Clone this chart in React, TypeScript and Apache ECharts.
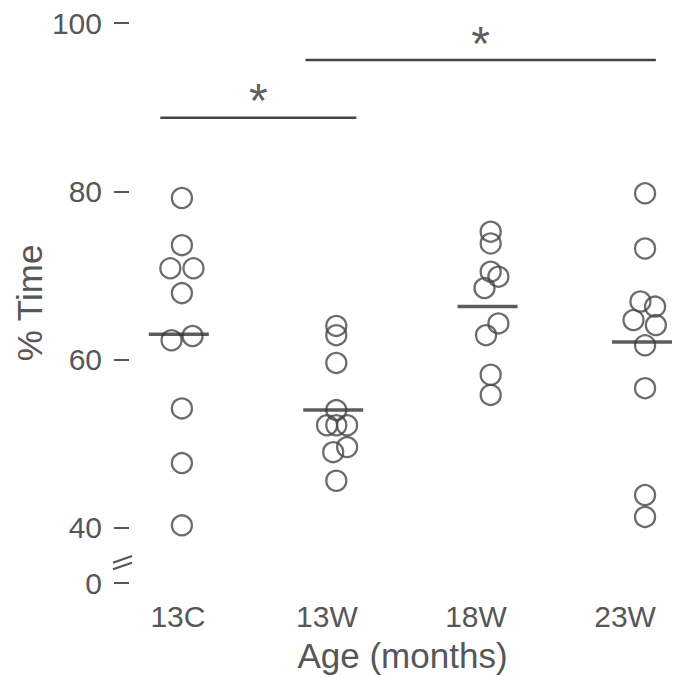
import React, { useEffect, useRef } from "react";
import * as echarts from "echarts";

// Categories (age groups)
const CATEGORIES = ["13C", "13W", "18W", "23W"];

// Individual values (% Time) per group, with small horizontal jitter (in category units)
const VALUES_13C = [79.2, 73.6, 70.85, 70.85, 67.9, 62.3, 62.8, 54.2, 47.7, 40.3];
const JITTER_13C = [0, 0, -0.075, 0.075, 0, -0.067, 0.069, 0, 0, 0];
const VALUES_13W = [64.0, 62.9, 59.6, 54.0, 52.2, 52.2, 52.2, 49.0, 49.6, 45.6];
const JITTER_13W = [0, 0, 0, 0, -0.06, 0, 0.07, -0.02, 0.07, 0];
const VALUES_18W = [75.2, 73.8, 70.45, 69.85, 68.5, 64.3, 62.9, 58.2, 55.8];
const JITTER_18W = [0, 0, 0, 0.05, -0.04, 0.05, -0.03, 0, 0];
const VALUES_23W = [79.76, 73.2, 66.9, 66.3, 64.7, 64.1, 61.7, 56.6, 43.9, 41.3];
const JITTER_23W = [0, 0, -0.03, 0.065, -0.075, 0.07, 0, 0, 0, 0];

// Group means (horizontal bars)
const MEANS = [63.0, 54.0, 66.3, 62.1];

// Y axis ticks (axis broken between 0 and 40)
const Y_TICK_POSITIONS = [33.45, 40, 60, 80, 100];
const Y_TICK_LABELS = ["0", "40", "60", "80", "100"];

// Significance bars
const SIG_X0 = [-0.14, 0.8];
const SIG_X1 = [1.13, 3.07];
const SIG_Y = [88.75, 95.6];
const SIG_MARK = ["*", "*"];

const TEXT_COLOR = "#575757";
const MARK_COLOR = "#474747";
const FONT = "Liberation Sans, Arial, sans-serif";

export default function App() {
  const ref = useRef<HTMLDivElement>(null);

  useEffect(() => {
    if (!ref.current) return;
    const chart = echarts.init(ref.current, undefined, { renderer: "svg" });

    const groups = [
      [VALUES_13C, JITTER_13C],
      [VALUES_13W, JITTER_13W],
      [VALUES_18W, JITTER_18W],
      [VALUES_23W, JITTER_23W],
    ];
    const points: number[][] = [];
    groups.forEach(([vals, jit], gi) => {
      (vals as number[]).forEach((v, i) => points.push([gi + (jit as number[])[i], v]));
    });

    const sigSeries: any[] = SIG_Y.map((y, i) => ({
      type: "line",
      xAxisIndex: 1,
      data: [
        [SIG_X0[i], y],
        [SIG_X1[i], y],
      ],
      symbol: "none",
      lineStyle: { color: "#444", width: 2.5 },
      silent: true,
      z: 3,
    }));
    const starSeries = {
      type: "scatter",
      xAxisIndex: 1,
      symbolSize: 0,
      data: SIG_Y.map((y, i) => [(SIG_X0[i] + SIG_X1[i]) / 2, y, SIG_MARK[i]]),
      label: {
        show: true,
        position: "top",
        distance: -7,
        formatter: (p: any) => p.value[2],
        fontSize: 48,
        fontFamily: FONT,
        color: "#333",
      },
      silent: true,
    };

    chart.setOption({
      animation: false,
      backgroundColor: "#ffffff",
      grid: { left: 129, right: 0, top: 23, bottom: 95, outerBoundsMode: "none" },
      xAxis: [
        {
          type: "value",
          min: -0.328,
          max: 3.3415,
          axisLine: { show: false, onZero: false },
          axisTick: { show: false },
          splitLine: { show: false },
          axisLabel: {
            customValues: [0, 1, 2, 3],
            formatter: (v: number) => CATEGORIES[Math.round(v)] ?? "",
            fontSize: 30,
            fontFamily: FONT,
            color: TEXT_COLOR,
            margin: 18,
          },
          name: "Age (months)",
          nameLocation: "middle",
          nameGap: 55,
          nameMoveOverlap: false,
          nameTextStyle: { fontSize: 35, fontFamily: FONT, color: TEXT_COLOR },
        },
        {
          type: "value",
          show: false,
          position: "top",
          min: -0.3427,
          max: 3.2004,
          axisLine: { onZero: false },
        },
      ],
      yAxis: {
        type: "value",
        min: Y_TICK_POSITIONS[0],
        max: 100,
        axisLine: { show: false, onZero: false },
        splitLine: { show: false },
        axisTick: {
          show: true,
          customValues: Y_TICK_POSITIONS,
          length: 15,
          lineStyle: { color: "#555", width: 2 },
        },
        axisLabel: {
          customValues: Y_TICK_POSITIONS,
          formatter: (v: number) => {
            const i = Y_TICK_POSITIONS.findIndex((t) => Math.abs(t - v) < 0.01);
            return i >= 0 ? Y_TICK_LABELS[i] : "";
          },
          fontSize: 30,
          fontFamily: FONT,
          color: TEXT_COLOR,
          margin: 27,
        },
        name: "% Time",
        nameLocation: "middle",
        nameGap: 82,
        nameMoveOverlap: false,
        nameTextStyle: { fontSize: 35, fontFamily: FONT, color: TEXT_COLOR },
      },
      graphic: [
        {
          type: "line",
          shape: { x1: 113, y1: 562.7, x2: 132, y2: 556 },
          style: { stroke: "#555", lineWidth: 2.2 },
        },
        {
          type: "line",
          shape: { x1: 113, y1: 569.3, x2: 132, y2: 562.7 },
          style: { stroke: "#555", lineWidth: 2.2 },
        },
      ],
      series: [
        {
          type: "scatter",
          xAxisIndex: 1,
          data: points,
          symbol: "circle",
          symbolSize: 20,
          itemStyle: { color: "rgba(0,0,0,0)", borderColor: MARK_COLOR, borderWidth: 2.3 },
          silent: true,
          z: 2,
        },
        {
          type: "scatter",
          xAxisIndex: 1,
          data: MEANS.map((m, i) => [i - 0.02, m]),
          symbol: "rect",
          symbolSize: [60, 3.5],
          itemStyle: { color: "#333" },
          silent: true,
          z: 4,
        },
        ...sigSeries,
        starSeries,
      ],
    });

    return () => chart.dispose();
  }, []);

  return (
    <div
      ref={ref}
      style={{ position: "absolute", left: 0, top: 0, width: 676, height: 678, background: "#fff" }}
    />
  );
}
